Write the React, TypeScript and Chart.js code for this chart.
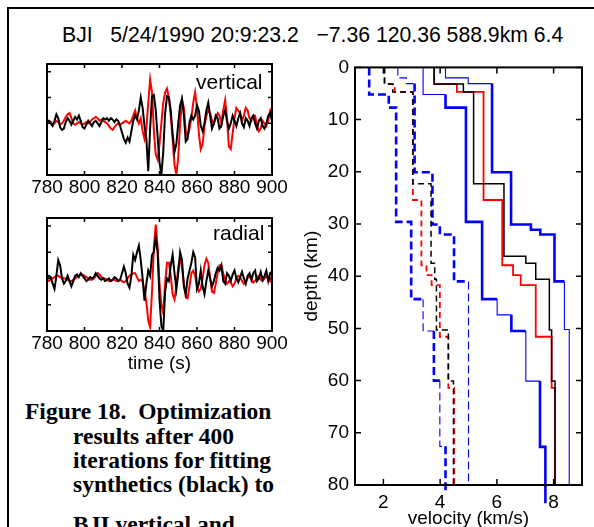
import React, { useEffect, useRef } from "react";
import { Chart, registerables } from "chart.js";
Chart.register(...registerables);

// ---------- seismogram data (time base 780 s, 1 s sampling) ----------
const T0 = 780;
const DT = 1;
const timeMin = 780;
const timeMax = 900;
const timeStep = 20;

const vertSynth = [
  0.05, 0.1, 0.0, -0.1, 0.1, 0.35, 0.2, -0.15, -0.25, -0.2,
  0.05, 0.2, 0.1, -0.05, 0.1, 0.25, 0.15, 0.3, 0.1, -0.15,
  -0.2, -0.05, 0.1, 0.0, -0.1, 0.05, 0.1, 0.0, -0.1, 0.05,
  0.2, 0.15, 0.2, 0.1, 0.2, 0.15, 0.05, 0.15, 0.1, -0.1,
  -0.35, -0.6, -0.75, -0.55, -0.7, -0.3, 0.1, 0.3, 0.15, 0.5,
  1.0, 0.6, -0.1, -0.6, -1.85, -0.2, 1.05, 1.1, 0.5, -0.5,
  -1.5, -2.0, -1.1, 0.4, 1.05, 1.0, 0.5, -0.4, -1.1, -0.8,
  0.0, 0.7, 0.95, 0.3, -0.7, -0.6, 0.05, 0.3, 0.15, 0.3,
  0.7, 0.5, -0.1, -0.3, 0.0, 0.5, 0.8, 0.3, -0.2, 0.0,
  0.3, 0.2, -0.2, -0.1, 0.3, 0.5, 0.1, -0.2, 0.0, 0.3,
  0.1, -0.1, 0.2, 0.4, 0.0, -0.15, 0.2, 0.1, -0.1, 0.2,
  0.3, 0.0, -0.2, 0.1, 0.2, -0.1, -0.2, 0.0, 0.3, 0.4,
  0.1,
];

const vertData = [
  0.0, 0.1, 0.05, -0.05, 0.0, 0.1, 0.05, -0.05, 0.0, 0.1,
  0.25, 0.35, 0.4, 0.2, 0.0, -0.05, 0.0, 0.05, 0.0, -0.05,
  0.0, 0.05, 0.0, 0.05, 0.15, 0.2, 0.25, 0.2, 0.1, 0.15,
  0.1, 0.05, 0.0, -0.1, -0.2, -0.25, -0.15, -0.05, 0.0, -0.05,
  0.0, 0.05, 0.1, 0.05, 0.0, 0.1, 0.3, 0.5, 0.2, 0.0,
  0.2, -0.3, -0.6, -0.2, 0.8, 1.7, 1.2, -0.3, -1.2, -1.4,
  -0.8, 0.0, 0.8, 1.2, 1.35, 1.0, 0.3, -0.6, -1.6, -2.0,
  -1.3, 0.0, 0.9, 0.6, -0.3, -0.5, -0.2, 0.2, 0.8, 1.2,
  0.6, -0.4, -1.0, -0.8, -0.1, 0.3, 0.5, 0.4, 0.1, 0.0,
  0.2, 0.4, 0.3, 0.0, 0.5, 0.9, 0.2, -0.9, -1.0, -0.4,
  0.2, 0.6, 0.5, 0.4, 0.1, 0.3, 0.6, 0.5, 0.2, 0.1,
  0.3, 0.3, -0.1, -0.3, -0.2, 0.1, 0.0, -0.1, 0.1, 0.5,
  0.6,
];

const radSynth = [
  0.0, 0.1, 0.05, -0.2, -0.4, 0.1, 0.7, 0.5, 0.0, -0.2,
  -0.1, 0.1, -0.1, -0.3, -0.1, 0.1, 0.15, 0.05, 0.2, 0.1,
  0.0, -0.1, -0.05, 0.05, 0.0, 0.05, 0.2, 0.1, 0.0, -0.05,
  0.0, -0.1, -0.05, 0.0, -0.1, -0.05, 0.05, 0.0, -0.1, -0.05,
  0.2, 0.45, 0.2, -0.2, -0.35, 0.1, 0.9, 0.7, 1.0, 1.25,
  0.7, 0.0, -0.85, -0.2, 0.3, 0.1, 0.9, 1.0, 1.55, 1.0,
  -0.8, -1.8, -2.0, -0.5, 0.0, -0.1, 0.5, 0.9, 0.2, -0.4,
  0.2, 1.0, 0.7, -0.3, -0.6, 0.0, 0.3, 0.6, 1.0, 0.8,
  -0.4, -0.2, 0.3, -0.3, -0.6, -0.1, 0.3, 0.0, -0.3, -0.1,
  0.2, 0.4, 0.3, 0.5, -0.1, -0.2, 0.2, 0.1, -0.1, 0.15,
  0.3, 0.0, -0.15, 0.05, 0.25, 0.0, -0.2, 0.1, 0.2, -0.05,
  0.2, 0.3, -0.1, 0.0, 0.25, -0.05, 0.1, 0.3, -0.1, 0.2,
  0.25,
];

const radData = [
  -0.05, -0.1, -0.05, 0.0, 0.05, 0.1, 0.1, 0.05, 0.05, 0.0,
  0.0, -0.05, -0.1, -0.1, -0.05, 0.0, 0.05, 0.1, 0.15, 0.15,
  0.1, 0.05, 0.0, -0.05, -0.05, 0.0, 0.1, 0.2, 0.15, 0.05,
  0.0, 0.0, -0.05, -0.1, -0.1, -0.05, -0.05, -0.1, -0.1, -0.05,
  -0.1, -0.15, -0.1, 0.0, 0.1, 0.15, 0.2, 0.2, 0.05, -0.1,
  -0.05, -0.1, -0.5, -0.9, -1.6, -1.85, -0.5, 1.2, 2.05, 1.2,
  -0.2, -1.0, -1.3, -0.2, 0.6, 0.6, 0.1, -0.6, -0.8, -0.3,
  0.4, 0.8, 0.4, -0.2, -0.7, -0.75, -0.3, 0.2, 0.3, 0.1,
  -0.3, -0.5, -0.4, 0.0, 0.5, 0.75, 0.6, 0.0, -0.5, -0.55,
  -0.2, 0.2, 0.5, 0.5, 0.2, -0.1, -0.2, -0.1, -0.15, -0.3,
  -0.2, 0.0, 0.1, 0.05, -0.1, -0.2, -0.1, 0.0, 0.1, 0.0,
  -0.15, -0.1, 0.05, 0.1, -0.05, -0.1, 0.0, 0.1, 0.0, -0.1,
  0.1,
];
const ampTicks = [-2, -1, 0, 1, 2];

// ---------- velocity profiles: layer boundaries (km) and velocities (km/s) ----------
const bestVpDepth = [0, 3.2, 4.7, 22.3, 36.2, 37.5, 40.6, 50.3, 60.1, 80];
const bestVp = [3.79, 4.82, 5.18, 6.25, 7.02, 7.37, 7.85, 7.93, 8.05];

const trueVpDepth = [0, 3.2, 4.7, 25.4, 37.9, 39.8, 41.7, 51.6, 61.4, 80];
const trueVp = [3.79, 4.59, 5.53, 6.19, 6.57, 6.84, 7.37, 7.93, 8.05];

const bestVsDepth = [0, 3.2, 4.7, 22.3, 37.5, 40.6, 50.3, 60.1, 80];
const bestVs = [2.04, 2.33, 3.04, 3.68, 3.81, 3.87, 4.29, 4.47];

const trueVsDepth = [0, 3.2, 4.7, 25.4, 37.9, 39.8, 41.7, 51.6, 61.4, 80];
const trueVs = [2.04, 2.4, 3.04, 3.34, 3.52, 3.7, 3.99, 4.29, 4.49];

const vpMaxDepth = [0, 2.0, 3.1, 20.1, 30.1, 31.1, 32.0, 41.0, 50.2, 80];
const vpMax = [4.19, 4.99, 5.83, 6.5, 7.2, 7.53, 8.03, 8.38, 8.55];

const vpMinDepth = [0, 5.2, 7.7, 29.6, 44.4, 47.4, 50.5, 60.1, 72.7, 83.5];
const vpMin = [3.4, 4.19, 4.91, 5.48, 6.01, 6.51, 7.02, 7.52, 7.71];

const vsMaxDepth = [0, 2.0, 3.1, 20.1, 30.1, 32.0, 41.0, 80];
const vsMax = [2.51, 2.81, 3.1, 3.73, 3.99, 4.49, 5.0];

const vsMinDepth = [0, 5.2, 7.7, 29.6, 44.4, 50.5, 60.0, 72.6, 81.5];
const vsMin = [1.5, 2.19, 2.45, 2.98, 3.4, 3.78, 3.99, 4.19];

const velMin = 1;
const velMax = 9;
const velTicks = [2, 4, 6, 8];
const depthMin = 0;
const depthMax = 80;
const depthTicks = [0, 10, 20, 30, 40, 50, 60, 70, 80];

const SANS = "'Liberation Sans', Arial, Helvetica, sans-serif";
const SERIF = "'Liberation Serif', 'Times New Roman', serif";

const boxPlugin = {
  id: "mbox",
  afterDatasetsDraw(chart: any, _args: any, opts: any) {
    const { ctx, chartArea, scales } = chart;
    const { left, right, top, bottom } = chartArea;
    const len = opts.len ?? 5;
    ctx.save();
    ctx.strokeStyle = "#000";
    ctx.lineWidth = opts.lw ?? 2;
    ctx.strokeRect(left, top, right - left, bottom - top);
    ctx.lineWidth = opts.tw ?? 1.5;
    ctx.beginPath();
    scales.x.ticks.forEach((t: any) => {
      const px = scales.x.getPixelForValue(t.value);
      ctx.moveTo(px, bottom);
      ctx.lineTo(px, bottom - len);
      ctx.moveTo(px, top);
      ctx.lineTo(px, top + len);
    });
    scales.y.ticks.forEach((t: any) => {
      const py = scales.y.getPixelForValue(t.value);
      ctx.moveTo(left, py);
      ctx.lineTo(left + len, py);
      ctx.moveTo(right, py);
      ctx.lineTo(right - len, py);
    });
    ctx.stroke();
    ctx.restore();
  },
};

function toSeries(arr: number[]) {
  return arr.map((v, i) => ({ x: T0 + i * DT, y: v }));
}

function stepPoints(depths: number[], vels: number[]) {
  const pts: { x: number; y: number }[] = [];
  vels.forEach((v, i) => {
    pts.push({ x: v, y: depths[i] });
    pts.push({ x: v, y: depths[i + 1] });
  });
  return pts;
}

const fixTicks = (vals: number[]) => (s: any) => {
  s.ticks = vals.map((v) => ({ value: v }));
};

function seisConfig(synth: number[], data: number[], xHeight: number, withTitle: boolean): any {
  return {
    type: "line",
    data: {
      datasets: [
        { data: toSeries(synth), borderColor: "#000", borderWidth: 2, pointRadius: 0, tension: 0 },
        { data: toSeries(data), borderColor: "#ff0000", borderWidth: 2, pointRadius: 0, tension: 0 },
      ],
    },
    options: {
      animation: false,
      responsive: false,
      maintainAspectRatio: false,
      layout: { padding: { left: 0, right: 28, top: 9, bottom: 0 } },
      plugins: { legend: { display: false }, tooltip: { enabled: false }, mbox: { len: 4, lw: 2, tw: 1.5 } },
      scales: {
        x: {
          type: "linear",
          min: timeMin,
          max: timeMax,
          ticks: { stepSize: timeStep, color: "#000", font: { family: SANS, size: 19 }, padding: 1, maxRotation: 0, autoSkip: false },
          grid: { display: false, drawTicks: false, tickLength: 0 },
          border: { display: false },
          title: withTitle
            ? { display: true, text: "time (s)", color: "#000", font: { family: SANS, size: 19 }, padding: { top: 0, bottom: 0 } }
            : { display: false },
          afterFit: (s: any) => {
            s.height = xHeight;
          },
        },
        y: {
          type: "linear",
          min: -2,
          max: 2.3,
          afterBuildTicks: fixTicks(ampTicks),
          ticks: { display: false },
          grid: { display: false, drawTicks: false, tickLength: 0 },
          border: { display: false },
          afterFit: (s: any) => {
            s.width = 27;
          },
        },
      },
    },
    plugins: [boxPlugin],
  };
}

// thick (T) / thin (t) rendering of each layer of the bound profiles
const T = 2.6;
const t = 1.1;

function velConfig(): any {
  const line = (depths: number[], vels: number[], color: string, width: number, dash: number[], layerWidths?: number[], clip = true) => ({
    data: stepPoints(depths, vels),
    borderColor: color,
    borderWidth: width,
    borderDash: dash,
    pointRadius: 0,
    tension: 0,
    clip: clip ? undefined : false,
    segment: layerWidths
      ? { borderWidth: (c: any) => layerWidths[Math.min(layerWidths.length - 1, Math.floor(c.p0DataIndex / 2))] }
      : undefined,
  });
  return {
    type: "line",
    data: {
      datasets: [
        line(bestVpDepth, bestVp, "#000", 1.5, []),
        line(bestVsDepth, bestVs, "#000", 1.5, [6, 4]),
        line(trueVpDepth, trueVp, "#ff0000", 1.8, []),
        line(trueVsDepth, trueVs, "#ff0000", 1.8, [6, 4]),
        line(vpMaxDepth, vpMax, "#0000ff", T, [], [t, t, T, T, T, T, T, t, t]),
        line(vpMinDepth, vpMin, "#0000ff", T, [], [t, T, T, T, t, T, t, T, T], false),
        line(vsMaxDepth, vsMax, "#0000ff", T, [8, 4], [t, t, T, T, T, T, t]),
        line(vsMinDepth, vsMin, "#0000ff", T, [8, 4], [T, T, T, T, t, T, t, T], false),
      ],
    },
    options: {
      animation: false,
      responsive: false,
      maintainAspectRatio: false,
      layout: { padding: { left: 0, right: 12, top: 14, bottom: 0 } },
      plugins: { legend: { display: false }, tooltip: { enabled: false }, mbox: { len: 6, lw: 2, tw: 1.5 } },
      scales: {
        x: {
          type: "linear",
          min: velMin,
          max: velMax,
          afterBuildTicks: fixTicks(velTicks),
          ticks: { color: "#000", font: { family: SANS, size: 19 }, padding: 6, maxRotation: 0, autoSkip: false },
          grid: { display: false, drawTicks: false, tickLength: 0 },
          border: { display: false },
          title: { display: true, text: "velocity (km/s)", color: "#000", font: { family: SANS, size: 19 }, padding: { top: 0, bottom: 0 } },
          afterFit: (s: any) => {
            s.height = 45;
          },
        },
        y: {
          type: "linear",
          reverse: true,
          min: depthMin,
          max: depthMax,
          afterBuildTicks: fixTicks(depthTicks),
          ticks: { color: "#000", font: { family: SANS, size: 19 }, padding: 6, autoSkip: false },
          grid: { display: false, drawTicks: false, tickLength: 0 },
          border: { display: false },
          title: { display: true, text: "depth (km)", color: "#000", font: { family: SANS, size: 19 }, padding: { top: 0, bottom: 0 } },
          afterFit: (s: any) => {
            s.width = 55;
          },
        },
      },
    },
    plugins: [boxPlugin],
  };
}

function ChartCanvas({ left, top, width, height, make }: { left: number; top: number; width: number; height: number; make: () => any }) {
  const ref = useRef<HTMLCanvasElement>(null);
  useEffect(() => {
    if (!ref.current) return;
    const chart = new Chart(ref.current, make());
    return () => chart.destroy();
  }, []);
  return (
    <canvas
      ref={ref}
      width={width}
      height={height}
      style={{ position: "absolute", left, top, width, height }}
    />
  );
}

function Text({ x, baseline, size, family, bold, children, k }: any) {
  return (
    <div
      style={{
        position: "absolute",
        left: x,
        top: baseline - k * size,
        fontFamily: family,
        fontSize: size,
        fontWeight: bold ? "bold" : "normal",
        lineHeight: `${size}px`,
        whiteSpace: "pre",
        color: "#000",
      }}
    >
      {children}
    </div>
  );
}

export default function App() {
  const captionLines = [
    "Figure 18.  Optimization",
    "results after 400",
    "iterations for fitting",
    "synthetics (black) to",
    "BJI vertical and",
  ];
  const captionBaselines = [420, 444.3, 468.6, 492.9, 533];
  return (
    <div
      style={{
        position: "absolute",
        left: 0,
        top: 0,
        width: 594,
        height: 527,
        overflow: "hidden",
        background: "#fff",
      }}
    >
      <div
        style={{
          position: "absolute",
          left: 7,
          top: 7,
          width: 600,
          height: 600,
          borderTop: "2px solid #000",
          borderLeft: "2px solid #000",
        }}
      />
      <Text x={62} baseline={42} size={21.2} family={SANS} k={0.8465}>
        {"BJI   5/24/1990 20:9:23.2   \u22127.36 120.36 588.9km 6.4"}
      </Text>
      <ChartCanvas left={20} top={55} width={280} height={145} make={() => seisConfig(vertSynth, vertData, 25, false)} />
      <ChartCanvas left={20} top={209} width={280} height={166} make={() => seisConfig(radSynth, radData, 44, true)} />
      <ChartCanvas left={300} top={50} width={294} height={480} make={velConfig} />
      <Text x={196} baseline={89} size={21} family={SANS} k={0.8465}>vertical</Text>
      <Text x={213} baseline={240} size={21} family={SANS} k={0.8465}>radial</Text>
      {captionLines.map((line, i) => (
        <Text key={i} x={i === 0 ? 25 : 73} baseline={captionBaselines[i]} size={23.5} family={SERIF} bold k={0.8375}>
          {line}
        </Text>
      ))}
    </div>
  );
}
